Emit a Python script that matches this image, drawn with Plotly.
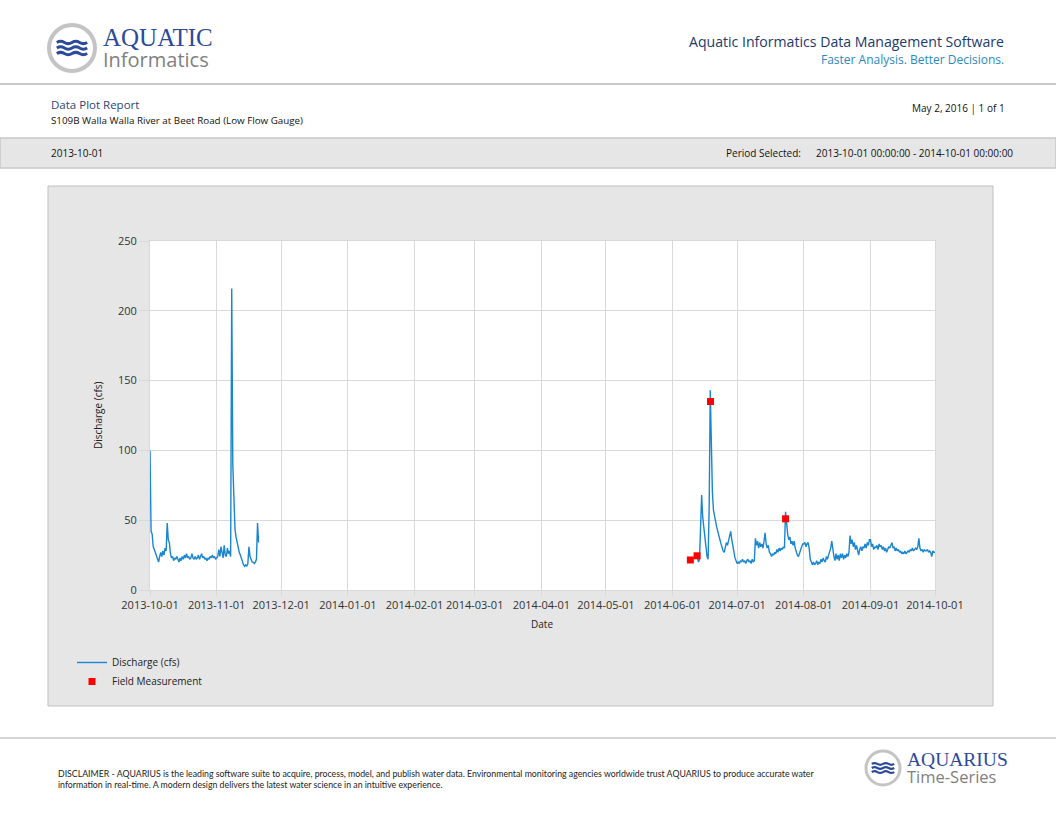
import pandas as pd
import plotly.graph_objects as go

W, H = 1056, 816

# discharge (cfs), read every 12 h from 2013-10-01 00:00 to 2013-11-20 12:00
q_fall = [
    100, 42, 40, 31, 29, 27, 25, 22, 20, 24, 27, 24, 28, 25, 30, 28,   # Oct 1-8
    48, 36, 34, 26, 23, 24, 21, 23, 22, 24, 21, 20, 23, 21, 24, 22,    # Oct 9-16
    25, 23, 26, 23, 24, 22, 23, 26, 23, 22, 24, 22, 23, 25, 22, 24,    # Oct 17-24
    26, 23, 24, 22, 23, 21, 23, 22, 24, 23, 25, 23, 24, 22,            # Oct 25-31
    23, 24, 29, 24, 31, 26, 23, 32, 25, 24, 30, 26, 28, 24,            # Nov 1-7
    216, 90, 55, 44, 38, 34, 30, 27, 25, 22, 19, 18, 17, 18,           # Nov 8-14
    17, 19, 31, 24, 22, 20, 20, 19, 20, 22, 48, 34,                    # Nov 15-20
]
fall_start = "2013-10-01 00:00"

# discharge (cfs), read every 12 h from 2014-06-12 12:00 to 2014-10-01 00:00
q_summer = [
    24, 20, 22, 40, 68, 52, 45, 36, 29, 24, 22, 60, 143, 100, 70,      # Jun 12-19
    57, 52, 48, 45, 42, 38, 36, 33, 30, 28, 27, 30, 34, 32, 36, 40,    # Jun 20-27
    42, 36, 31, 27, 23, 21,                                            # Jun 28-30
    19, 20, 19, 21, 20, 22, 20, 21, 19, 21, 22, 20, 21, 19, 22, 20,    # Jul 1-8
    21, 37, 32, 35, 30, 34, 31, 33, 30, 35, 41, 33, 30, 32, 27, 26,    # Jul 9-16
    24, 26, 25, 27, 26, 29, 27, 30, 28, 30, 29, 31, 30, 56, 45, 40,    # Jul 17-24
    36, 38, 33, 35, 32, 35, 30, 27, 25, 24, 27, 30, 31, 33,            # Jul 25-31
    33, 34, 31, 33, 34, 30, 22, 20, 18, 20, 18, 19, 21, 18, 20, 19,    # Aug 1-8
    22, 20, 23, 21, 20, 24, 22, 25, 27, 30, 35, 28, 24, 21, 26, 22,    # Aug 9-16
    25, 21, 26, 23, 26, 22, 25, 23, 26, 24, 27, 39, 33, 36, 31, 34,    # Aug 17-24
    29, 32, 28, 25, 29, 31, 28, 31, 30, 33, 30, 34, 32, 36,            # Aug 25-31
    36, 31, 33, 29, 31, 30, 32, 29, 33, 31, 32, 29, 31, 28, 30, 27,    # Sep 1-8
    29, 31, 30, 32, 34, 30, 31, 28, 30, 28, 29, 27, 28, 26, 27, 26,    # Sep 9-16
    28, 26, 27, 28, 27, 29, 28, 30, 28, 29, 30, 29, 31, 37, 30, 28,    # Sep 17-24
    29, 27, 29, 28, 28, 29, 27, 28, 27, 24, 28, 27,                    # Sep 25-30
    27,                                                                # Oct 1
]
summer_start = "2014-06-12 12:00"

meas_dates = ["2014-06-09 06:00", "2014-06-12 09:00", "2014-06-18 15:00", "2014-07-23 12:00"]
meas_values = [21.5, 24.5, 135, 51]

month_ticks = ["2013-10-01", "2013-11-01", "2013-12-01", "2014-01-01", "2014-02-01",
               "2014-03-01", "2014-04-01", "2014-05-01", "2014-06-01", "2014-07-01",
               "2014-08-01", "2014-09-01", "2014-10-01"]
y_ticks = [0, 50, 100, 150, 200, 250]

disclaimer = ("DISCLAIMER - AQUARIUS is the leading software suite to acquire, process, model, and publish water data. "
              "Environmental monitoring agencies worldwide trust AQUARIUS to produce accurate water<br>"
              "information in real-time. A modern design delivers the latest water science in an intuitive experience.")

NAVY = "#22396b"
LOGO_BLUE = "#2c4a9a"
GRID = "#d9d9d9"
FONT = "Open Sans"


def X(px):
    return px / W


def Y(py):
    return 1 - py / H


t_fall = pd.date_range(fall_start, periods=len(q_fall), freq="12h").strftime("%Y-%m-%d %H:%M").tolist()
t_summer = pd.date_range(summer_start, periods=len(q_summer), freq="12h").strftime("%Y-%m-%d %H:%M").tolist()

fig = go.Figure()
fig.add_trace(go.Scatter(x=t_fall + [None] + t_summer, y=q_fall + [None] + q_summer,
                         mode="lines", name="Discharge (cfs)",
                         line=dict(color="#1a86cf", width=1.4), connectgaps=False))
fig.add_trace(go.Scatter(x=meas_dates, y=meas_values, mode="markers", name="Field Measurement",
                         marker=dict(symbol="square", color="#ff0000", size=7)))


def wave(cx, cy, half, amp):
    seg = 2 * half / 4
    p = f"M {X(cx - half)},{Y(cy)}"
    for i in range(4):
        yc = cy - amp if i % 2 == 0 else cy + amp
        p += f" Q {X(cx - half + seg * (i + 0.5))},{Y(yc)} {X(cx - half + seg * (i + 1))},{Y(cy)}"
    return p


def logo(cx, cy, r, ring, wave_w):
    out = [dict(type="circle", xref="paper", yref="paper", x0=X(cx - r), x1=X(cx + r),
                y0=Y(cy + r), y1=Y(cy - r), fillcolor="white", line=dict(color="#c4c4c4", width=ring))]
    for dy in (-r * 0.24, 0, r * 0.24):
        out.append(dict(type="path", xref="paper", yref="paper", path=wave(cx, cy + dy, r * 0.66, r * 0.1),
                        line=dict(color=LOGO_BLUE, width=wave_w)))
    return out


shapes = []
# header / footer rules
shapes.append(dict(type="line", xref="paper", yref="paper", x0=0, x1=1, y0=Y(84), y1=Y(84),
                   line=dict(color="#c8c8c8", width=2)))
shapes.append(dict(type="rect", xref="paper", yref="paper", x0=0, x1=1, y0=Y(168), y1=Y(138),
                   fillcolor="#e6e6e6", line=dict(color="#c8c8c8", width=1.5)))
shapes.append(dict(type="line", xref="paper", yref="paper", x0=0, x1=1, y0=Y(738), y1=Y(738),
                   line=dict(color="#c8c8c8", width=1.5)))
# chart panel and plot area
shapes.append(dict(type="rect", xref="paper", yref="paper", x0=X(48), x1=X(993), y0=Y(706), y1=Y(186),
                   fillcolor="#e6e6e6", line=dict(color="#c0c0c0", width=1), layer="below"))
shapes.append(dict(type="rect", xref="paper", yref="paper", x0=X(150), x1=X(935), y0=Y(590), y1=Y(241),
                   fillcolor="white", line=dict(width=0), layer="below"))
shapes += logo(72, 48, 23, 4, 3)
shapes += logo(883, 768, 17, 3, 2.2)

ann = []


def txt(x, y, s, size, color="#222", anchor="left", family=FONT):
    ann.append(dict(x=X(x), y=Y(y), xref="paper", yref="paper", text=s, showarrow=False,
                    xanchor=anchor, yanchor="middle", align=anchor,
                    font=dict(size=size, color=color, family=family)))


# two-line logo texts kept as one annotation each
txt(101, 48, f"<span style='font-family:Liberation Serif;font-size:25px;color:{LOGO_BLUE}'>AQUATIC</span><br>"
             "<span style='font-size:20px'>Informatics</span>", 16.5, "#7f7f7f")
txt(905, 768.5, f"<span style='font-family:Liberation Serif;font-size:19.5px;color:{LOGO_BLUE}'>AQUARIUS</span><br>"
                "<span style='font-size:16.5px'>Time-Series</span>", 13, "#7f7f7f")
txt(1006, 41, "Aquatic Informatics Data Management Software", 14.1, NAVY, "right")
txt(1006, 60, "Faster Analysis. Better Decisions.", 12, "#2a8abf", "right")
txt(49, 105, "Data Plot Report", 11.5, "#2c4770")
txt(49, 120, "S109B Walla Walla River at Beet Road (Low Flow Gauge)", 9.8, "#111")
txt(1007, 108, "May 2, 2016 | 1 of 1", 10, "#111", "right")
txt(49, 153, "2013-10-01", 10, "#111")
txt(803, 153, "Period Selected:", 10, "#111", "right")
txt(1015, 153, "2013-10-01 00:00:00 - 2014-10-01 00:00:00", 10, "#111", "right")
txt(98, 415, "Discharge (cfs)", 10, "#222", "center")
ann[-1]["textangle"] = -90
txt(542, 624, "Date", 10, "#222", "center")
txt(56, 779, disclaimer, 8.75, "#222", family="Lato")

fig.update_layout(
    width=W, height=H, autosize=False,
    margin=dict(l=0, r=0, t=0, b=0, pad=0, autoexpand=False),
    paper_bgcolor="white", plot_bgcolor="rgba(0,0,0,0)",
    font=dict(family=FONT, size=10, color="#222"),
    shapes=shapes, annotations=ann,
    showlegend=True,
    legend=dict(x=X(72), y=Y(648), xanchor="left", yanchor="top", bgcolor="rgba(0,0,0,0)",
                font=dict(size=10, color="#222"), tracegroupgap=0),
    xaxis=dict(domain=[X(150), X(935)], type="date", range=["2013-10-01", "2014-10-01"],
               tickvals=month_ticks, ticktext=month_ticks, showgrid=True, gridcolor=GRID,
               ticks="outside", ticklen=5, tickcolor=GRID, showline=True, linecolor=GRID,
               mirror=True, zeroline=False, automargin=False, tickfont=dict(size=11, color="#333")),
    yaxis=dict(domain=[Y(590), Y(241)], range=[0, 250], tickvals=y_ticks, showgrid=True,
               gridcolor=GRID, ticks="outside", ticklen=10, tickcolor=GRID, showline=True,
               linecolor=GRID, mirror=True, zeroline=False, automargin=False,
               tickfont=dict(size=11, color="#333")),
)

# the page is a full report sheet, so drop the browser's default body margin
fig.write_html("out.html", config={"displayModeBar": False},
               post_script="document.body.style.margin='0';")
